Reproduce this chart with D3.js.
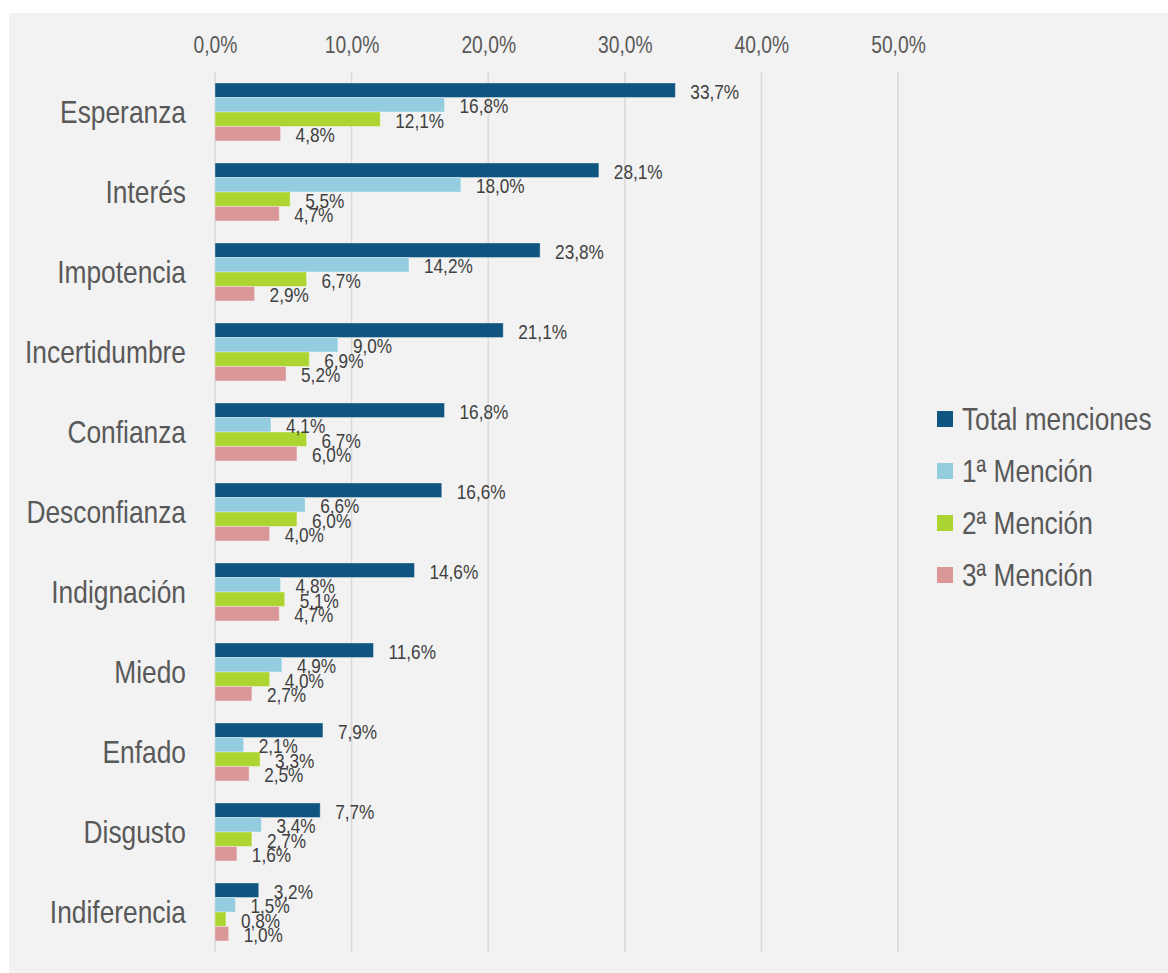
<!DOCTYPE html>
<html>
<head>
<meta charset="utf-8">
<script src="https://cdn.jsdelivr.net/npm/d3@7"></script>
<style>
	body { margin: 0; background: #ffffff; }
	text { font-family: "Liberation Sans", Arial, sans-serif; }
</style>
</head>
<body>
<div id="root"></div>
<script>
const categories = ['Esperanza', 'Interés', 'Impotencia', 'Incertidumbre', 'Confianza', 'Desconfianza',
	'Indignación', 'Miedo', 'Enfado', 'Disgusto', 'Indiferencia']
const seriesNames = ['Total menciones', '1ª Mención', '2ª Mención', '3ª Mención']
const totalMenciones = [33.7, 28.1, 23.8, 21.1, 16.8, 16.6, 14.6, 11.6, 7.9, 7.7, 3.2]
const mencion1 = [16.8, 18.0, 14.2, 9.0, 4.1, 6.6, 4.8, 4.9, 2.1, 3.4, 1.5]
const mencion2 = [12.1, 5.5, 6.7, 6.9, 6.7, 6.0, 5.1, 4.0, 3.3, 2.7, 0.8]
const mencion3 = [4.8, 4.7, 2.9, 5.2, 6.0, 4.0, 4.7, 2.7, 2.5, 1.6, 1.0]
const xTicks = [0, 10, 20, 30, 40, 50]

const C = {
	width: 1168,
	height: 973,
	left: 215,
	right: 898,
	top: 72,
	bottom: 952,
	narrow: 0.82, // no narrow font installed, squeeze the sans instead
	colors: ['#0f557f', '#93cddf', '#add532', '#db9797']
}

const svg = d3.select('#root').append('svg')
	.attr('width', C.width)
	.attr('height', C.height)

// gray panel
svg.append('rect')
	.attr('x', 9).attr('y', 13)
	.attr('width', C.width - 9).attr('height', C.height - 13)
	.attr('fill', '#f2f2f2')

const series = [totalMenciones, mencion1, mencion2, mencion3]
const pct = v => v.toFixed(1).replace('.', ',') + '%'

const xScale = d3.scaleLinear()
	.domain([0, 50])
	.range([C.left, C.right])

const yScale = d3.scaleBand()
	.domain(categories)
	.range([C.top, C.bottom])
	.paddingInner(0.275)
	.paddingOuter(0.1375)

const ySub = d3.scaleBand()
	.domain(d3.range(series.length))
	.range([0, yScale.bandwidth()])

// -- grid --
svg.append('g')
	.selectAll('line')
	.data(xTicks)
	.enter()
	.append('line')
	.attr('x1', d => xScale(d)).attr('x2', d => xScale(d))
	.attr('y1', C.top).attr('y2', C.bottom)
	.attr('stroke', '#d9d9d9')
	.attr('stroke-width', 1.5)

// -- axis --
const axisX = d3.axisTop(xScale)
	.tickValues(xTicks)
	.tickSize(0)
	.tickPadding(0)
	.tickFormat(pct)

const gx = svg.append('g')
	.attr('transform', 'translate(0,53)')
	.call(axisX)
gx.select('.domain').remove()
gx.selectAll('text')
	.attr('font-size', 23.5)
	.attr('fill', '#595959')
	.attr('font-family', null)
	.attr('transform', `scale(${C.narrow},1)`)

// -- category labels --
svg.append('g')
	.selectAll('text')
	.data(categories)
	.enter()
	.append('text')
	.attr('transform', d => `translate(186,${yScale(d) + yScale.bandwidth() / 2}) scale(0.85,1)`)
	.attr('dy', '0.35em')
	.attr('text-anchor', 'end')
	.attr('font-size', 31)
	.attr('fill', '#595959')
	.text(d => d)

// -- bars --
const groups = svg.append('g')
	.selectAll('g')
	.data(categories)
	.enter()
	.append('g')
	.attr('transform', d => `translate(0,${yScale(d)})`)

groups.selectAll('rect')
	.data((d, i) => series.map((s, j) => ({ j: j, v: s[i] })))
	.enter()
	.append('rect')
	.attr('x', xScale(0))
	.attr('y', d => ySub(d.j))
	.attr('width', d => xScale(d.v) - xScale(0))
	.attr('height', ySub.bandwidth())
	.attr('fill', d => C.colors[d.j])
	.attr('stroke', '#ffffff')
	.attr('stroke-opacity', 0.35)
	.attr('stroke-width', 1)

groups.selectAll('text')
	.data((d, i) => series.map((s, j) => ({ j: j, v: s[i] })))
	.enter()
	.append('text')
	.attr('transform', d => `translate(${xScale(d.v) + 15},${ySub(d.j) + ySub.bandwidth() / 2 + 1}) scale(${C.narrow},1)`)
	.attr('dy', '0.35em')
	.attr('font-size', 21)
	.attr('fill', '#404040')
	.text(d => pct(d.v))

// -- legend --
const legend = svg.append('g')
	.attr('transform', 'translate(937,419)')

const item = legend.selectAll('g')
	.data(seriesNames)
	.enter()
	.append('g')
	.attr('transform', (d, i) => `translate(0,${i * 52})`)

item.append('rect')
	.attr('x', 0).attr('y', -8)
	.attr('width', 16).attr('height', 16)
	.attr('fill', (d, i) => C.colors[i])

item.append('text')
	.attr('transform', `translate(25,0) scale(${C.narrow},1)`)
	.attr('dy', '0.35em')
	.attr('font-size', 32)
	.attr('fill', '#595959')
	.text(d => d)
</script>
</body>
</html>
